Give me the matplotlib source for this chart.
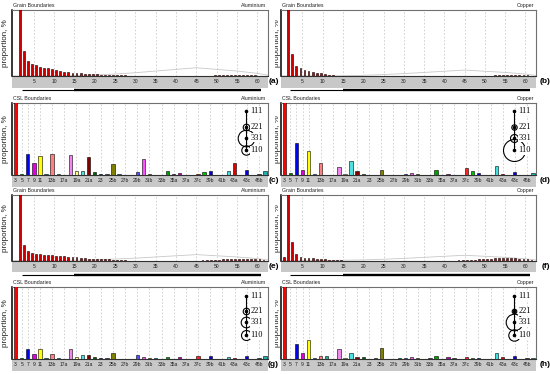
import matplotlib
matplotlib.use("Agg")
import matplotlib.pyplot as plt
from matplotlib.patches import Rectangle
from matplotlib.transforms import Bbox, blended_transform_factory

plt.rcParams["font.family"] = "Liberation Sans"

# =============================================================================
# DATA  (proportions, in % of each panel's height)
# =============================================================================
# grain boundary misorientation histograms, 1 deg bins starting at 0 deg
GB_A = [0, 130, 38, 23, 18, 16, 14, 12.5, 11.5, 10, 8.5, 7.5, 6.5, 5.5, 5, 4.5,
        4, 3.5, 3, 2.5, 2.3, 2, 2, 1.7, 1.5, 1.3, 1.1, 1.0, 0, 0, 0, 0,
        0, 0, 0, 0, 0, 0, 0, 0, 0, 0, 0, 0, 0, 0, 0, 0,
        0, 0.8, 0.8, 0.8, 1, 1, 1, 1, 1, 1, 1, 0.8, 0.6, 0]
GB_B = [0, 130, 33.5, 15, 11.5, 8.5, 7, 5.5, 5, 4, 3, 1.5, 0.8, 0.6, 0.5, 0,
        0, 0, 0, 0, 0, 0, 0, 0, 0, 0, 0, 0, 0, 0, 0, 0,
        0, 0, 0, 0, 0, 0, 0, 0, 0, 0, 0, 0, 0, 0, 0, 0,
        0, 0, 0, 0, 1, 1, 1.3, 1.5, 1.5, 1.3, 1.2, 1, 0.8, 0]
GB_E = [0, 130, 24, 14, 11.3, 10.3, 9.2, 8.7, 8.2, 7.7, 7.2, 6.7, 6.2, 5.6, 5.1, 4.6,
        3.6, 3.1, 2.6, 2.3, 2.0, 2.0, 1.8, 1.6, 1.5, 1.3, 1.2, 1.0, 0, 0, 0, 0,
        0, 0, 0, 0, 0, 0, 0, 0, 0, 0, 0, 0, 0, 0, 1, 1,
        1.2, 1.3, 1.5, 1.7, 2, 2.2, 2.5, 2.8, 3, 2.8, 2.5, 2.2, 2, 1.5]
GB_F = [5, 130, 28, 10.6, 6, 4.5, 4, 3.5, 3, 2.5, 2, 1.2, 1, 0.8, 0.8, 0,
        0, 0, 0, 0, 0, 0, 0, 0, 0, 0, 0, 0, 0, 0, 0, 0,
        0, 0, 0, 0, 0, 0, 0, 0, 0, 0, 0, 0.8, 0.8, 1, 1.2, 1.5,
        1.8, 2, 2.5, 3, 3.5, 4, 4.5, 4.5, 4, 3.5, 3, 2.5, 2, 1.5]

# Mackenzie (random) distribution, grey reference curve
MK_ANGLES = [0, 10, 15, 20, 25, 30, 35, 40, 45, 50, 55, 60, 62.8]
MK_A = [0, 0.2, 0.6, 1.5, 3.0, 5.0, 7.5, 10.0, 12.5, 10.0, 7.5, 4.0, 1.0]
MK_B = [0, 0.1, 0.4, 1.0, 2.2, 3.6, 5.4, 7.2, 9.0, 7.2, 5.4, 2.9, 0.7]
MK_E = [0, 0.1, 0.4, 1.0, 2.2, 3.6, 5.4, 7.2, 9.0, 7.2, 5.4, 2.9, 0.7]
MK_F = [0, 0.1, 0.4, 0.9, 1.9, 3.2, 4.8, 6.4, 8.0, 6.4, 4.8, 2.6, 0.6]

GB_TICKS = [5, 10, 15, 20, 25, 30, 35, 40, 45, 50, 55, 60]
LAGB_RANGE = (2, 15)     # thin bar under the grain boundary panels
HAGB_RANGE = (15, 61)    # thick bar

# CSL boundaries
CSL_TYPES = ["3", "5", "7", "9", "11", "13a", "13b", "15", "17a", "17b", "19a", "19b",
             "21a", "21b", "23", "25a", "25b", "27a", "27b", "29a", "29b", "31a", "31b",
             "33a", "33b", "33c", "35a", "35b", "37a", "37b", "37c", "39a", "39b", "41a",
             "41b", "41c", "43a", "43b", "43c", "45a", "45b", "45c"]
CSL_SHOWN = ["3", "5", "7", "9", "11", "13b", "17a", "19a", "21a", "23", "25b", "27b",
             "29b", "31b", "33b", "35a", "37a", "37c", "39b", "41b", "43a", "43c", "45b"]
CSL_COLORS = ["#ff0000", "#008000", "#0000ff", "#e000e0", "#ffff00", "#008080", "#ff8080",
              "#20b090", "#404040", "#ee88ee", "#ffff80", "#50e0e0", "#800000", "#006000",
              "#000080", "#404040", "#808000", "#008080", "#808080", "#008000", "#5050ff",
              "#ff50ff", "#808000", "#008080", "#404040", "#00a000", "#800080", "#c000c0",
              "#404040", "#00c000", "#ff2020", "#00c000", "#0000d0", "#00ffff", "#808080",
              "#40e0e0", "#e00000", "#404040", "#0000e0", "#404040", "#404040", "#20b0b0"]
CSL_C = [130, 1.5, 29, 17, 26, 2, 29, 1, 0, 27.5, 6, 6, 25, 4, 1, 1, 15, 1.5, 0, 0, 4,
         22, 1.5, 0, 0, 5, 1, 3, 0, 0, 2, 4, 6, 0, 0, 6, 16, 0, 7, 0, 1, 5.5]
CSL_D = [130, 3, 44, 7, 33.5, 1, 16, 0, 0, 11, 1.5, 20, 5.5, 1.5, 0, 0, 7, 0, 0, 0, 1.5,
         3, 1.5, 0, 0, 7.5, 0, 1, 0, 0, 10, 5.5, 3, 0, 0, 12, 2, 0, 4, 0, 0, 2.5]
CSL_G = [130, 1, 14, 7.5, 13.5, 1.5, 6.5, 1, 0, 13.5, 3, 5.5, 5, 3, 1, 1, 8, 0, 0, 0, 5.5,
         3, 1.5, 1.5, 0, 3, 0, 2.5, 0, 0, 4, 0, 3.5, 0, 0, 3, 2, 0, 4.5, 0, 1, 3.5]
CSL_H = [130, 0, 21, 9, 26, 1.5, 4, 4, 0, 14, 1.5, 8, 2.5, 3, 0, 1, 15, 0, 0, 1.5, 2,
         2.5, 1.5, 0, 1, 4.5, 0, 2.5, 1, 0, 2.5, 1, 1, 0, 0, 8, 3, 0, 4, 0, 1, 1]

# Sigma3 rotation axis key: circle radii (px) for 221, 331, 110
AXIS_NAMES = ["111", "221", "331", "110"]
AXIS_R_C = [3.3, 8.3, 4.7]
AXIS_R_D = [2.7, 4.0, 11.0]
AXIS_R_G = [3.3, 5.3, 5.0]
AXIS_R_H = [2.3, 8.3, 5.7]

# =============================================================================
# STYLE / LAYOUT (pixel positions in the 550 x 374 picture)
# =============================================================================
FIG_W, FIG_H = 550, 374
COLS = [(12.3, 268.0), (281.0, 536.0)]
ROWS = [(10, 76), (102.5, 175), (195, 260.5), (287, 359)]
BAND_PX = 11.5
YLABEL_X = [5.5, 277.5]
TAG_X = [273.5, 545.5]
BAND_GREY = "#c8c8c8"
GRID_GREY = "#c4c4c4"
FRAME = "#707070"
TEXT = "#202020"
GB_RED = "#cc0000"
INSET_Y = [0.88, 0.665, 0.515, 0.34]

fig = plt.figure(figsize=(FIG_W / 100, FIG_H / 100), dpi=100)
fig.patch.set_facecolor("white")


def add_px_axes(col, row):
    x0, x1 = COLS[col]
    y0, y1 = ROWS[row]
    return fig.add_axes([x0 / FIG_W, 1 - y1 / FIG_H, (x1 - x0) / FIG_W, (y1 - y0) / FIG_H])


def frame(ax, col, row, title, material, tag):
    y0, y1 = ROWS[row]
    h = y1 - y0
    ax.set_ylim(0, 100)
    ax.set_yticks([])
    for s in ax.spines.values():
        s.set_color(FRAME)
        s.set_linewidth(0.8)
    ax.spines["left"].set_color("black")
    ax.spines["left"].set_linewidth(1.1)
    ax.spines["bottom"].set_color("#303030")
    ax.add_patch(Rectangle((0, -BAND_PX / h), 1, BAND_PX / h, transform=ax.transAxes,
                           clip_on=False, fc=BAND_GREY, ec="none", zorder=0))
    ax.tick_params(axis="x", length=0, pad=2.3, labelsize=3.6, labelcolor=TEXT)
    ax.grid(axis="x", color=GRID_GREY, lw=0.5, ls=(0, (2.5, 2.5)))
    ax.set_axisbelow(True)
    ax.annotate(title, xy=(0, 1), xycoords="axes fraction", xytext=(0.5, 1.2),
                textcoords="offset points", ha="left", va="bottom", fontsize=3.8, color=TEXT)
    ax.annotate(material, xy=(1, 1), xycoords="axes fraction", xytext=(-1, 1.2),
                textcoords="offset points", ha="right", va="bottom", fontsize=3.8, color=TEXT)

    yl = fig.text(YLABEL_X[col] / FIG_W, 1 - (y0 + y1) / 2 / FIG_H, "proportion, %",
                  rotation=90, ha="center", va="center", fontsize=5.8, color=TEXT)
    if col == 1:
        # right half was pasted on, so its axis label is cut at the seam
        yl.set_clip_box(Bbox.from_extents(275, 0, FIG_W, FIG_H))
        yl.set_clip_on(True)
    fig.text(TAG_X[col] / FIG_W, 1 - (y1 + BAND_PX / 2) / FIG_H, f"({tag})",
             ha="center", va="center", fontsize=6, fontweight="bold", color="black")


def gb_panel(col, row, values, mk, material, tag):
    ax = add_px_axes(col, row)
    centers = [k + 0.5 for k in range(len(values))]
    ax.bar(centers, values, width=0.45, color=GB_RED, edgecolor="black", lw=0.4, zorder=3)
    ax.plot(MK_ANGLES, mk, color="#c8c8c8", lw=0.6, zorder=2)
    ax.set_xlim(-0.3, 62.6)
    ax.set_xticks(GB_TICKS)
    ax.set_xticklabels([str(t) for t in GB_TICKS])
    frame(ax, col, row, "Grain Boundaries", material, tag)

    # low / high angle boundary bar underneath the tick band
    h = ROWS[row][1] - ROWS[row][0]
    yb = -(BAND_PX + 2.5) / h
    tr = blended_transform_factory(ax.transData, ax.transAxes)
    ax.plot(LAGB_RANGE, [yb, yb], transform=tr, color="black", lw=0.8, clip_on=False,
            solid_capstyle="butt")
    ax.plot(HAGB_RANGE, [yb, yb], transform=tr, color="black", lw=1.7, clip_on=False,
            solid_capstyle="butt")


def csl_panel(col, row, values, radii, material, tag):
    ax = add_px_axes(col, row)
    pos = list(range(len(CSL_TYPES)))
    ax.bar(pos, values, width=0.55, color=CSL_COLORS, edgecolor="black", lw=0.4, zorder=3)
    ax.set_xlim(-0.55, len(CSL_TYPES) - 0.5)
    ticks = [CSL_TYPES.index(name) for name in CSL_SHOWN]
    ax.set_xticks(ticks)
    ax.set_xticklabels(CSL_SHOWN)
    frame(ax, col, row, "CSL Boundaries", material, tag)

    # rotation axis key
    x0, x1 = COLS[col]
    w = x1 - x0
    xk = 0.915
    ax.plot([xk, xk], [INSET_Y[0], INSET_Y[-1]], transform=ax.transAxes, color="black",
            lw=0.8, zorder=4)
    ax.plot([xk] * 4, INSET_Y, transform=ax.transAxes, ls="none", marker="o", ms=1.6,
            color="black", zorder=5)
    for y, r in zip(INSET_Y[1:], radii):
        ax.plot([xk], [y], transform=ax.transAxes, ls="none", marker="o", ms=2 * r / 1.389,
                mfc="none", mec="black", mew=0.8, zorder=5)
    for y, name in zip(INSET_Y, AXIS_NAMES):
        ax.text(xk + 4.0 / w, y, name, transform=ax.transAxes, ha="left", va="center",
                fontsize=6, family="Liberation Serif", color="black", zorder=6,
                bbox=dict(fc="white", ec="none", pad=0.4))


gb_panel(0, 0, GB_A, MK_A, "Aluminium", "a")
gb_panel(1, 0, GB_B, MK_B, "Copper", "b")
csl_panel(0, 1, CSL_C, AXIS_R_C, "Aluminium", "c")
csl_panel(1, 1, CSL_D, AXIS_R_D, "Copper", "d")
gb_panel(0, 2, GB_E, MK_E, "Aluminium", "e")
gb_panel(1, 2, GB_F, MK_F, "Copper", "f")
csl_panel(0, 3, CSL_G, AXIS_R_G, "Aluminium", "g")
csl_panel(1, 3, CSL_H, AXIS_R_H, "Copper", "h")

fig.savefig("out.png", dpi=100, facecolor="white")
